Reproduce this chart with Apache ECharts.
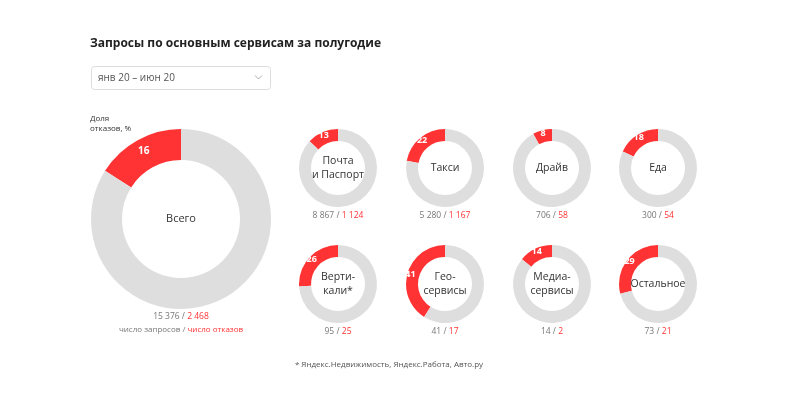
<!DOCTYPE html>
<html><head><meta charset="utf-8">
<script src="https://cdn.jsdelivr.net/npm/echarts@6/dist/echarts.min.js"></script>
<style>html,body{margin:0;padding:0;background:#fff}#c{width:800px;height:401px}</style>
</head><body><div id="c"></div>
<script>
var titleText = 'Запросы по основным сервисам за полугодие';
var periodText = 'янв 20 – июн 20';
var names = ['Всего', 'Почта\nи Паспорт', 'Такси', 'Драйв', 'Еда', 'Верти-\nкали*', 'Гео-\nсервисы', 'Медиа-\nсервисы', 'Остальное'];
var shares = [16, 13, 22, 8, 18, 26, 41, 14, 29];
var requests = [15376, 8867, 5280, 706, 300, 95, 41, 14, 73];
var refusals = [2468, 1124, 1167, 58, 54, 25, 17, 2, 21];
var footnote = '* Яндекс.Недвижимость, Яндекс.Работа, Авто.ру';

var FONT = '"Open Sans", "Noto Sans", sans-serif';
var RED = '#ff3333', GREY = '#dedede';
var layout = [
  {c:[181,219], r:[59,90], big:true},
  {c:[338,168], r:[27,39]}, {c:[445,168], r:[27,39]}, {c:[552,168], r:[27,39]}, {c:[658,168], r:[27,39]},
  {c:[338,284], r:[27,39]}, {c:[445,284], r:[27,39]}, {c:[552,284], r:[27,39]}, {c:[658,284], r:[27,39]}
];
function fmt(n){ return String(n).replace(/\B(?=(\d{3})+(?!\d))/g, ' '); }

var series = names.map(function(nm, i){
  var L = layout[i];
  return {
    type:'pie', name: nm, center: L.c, radius: L.r, clockwise:false, startAngle:90,
    silent:true, animation:false, labelLine:{show:false},
    data:[
      {value: shares[i], name: nm, itemStyle:{color:RED},
       label:{show:true, position:'inside', formatter: String(shares[i]), color:'#fff', fontWeight:'bold', fontSize: L.big?10:9, fontFamily:FONT}},
      {value: 100-shares[i], name: nm+'_', itemStyle:{color:GREY},
       label:{show:true, position:'center', formatter: nm, color:'#333', fontSize: L.big?11:10.5, lineHeight:13.5, fontFamily:FONT}}
    ]
  };
});

var graphics = [
  {type:'text', left:90, top:38, style:{text:titleText, font:'bold 12px '+FONT, fill:'#222'}},
  {type:'rect', shape:{x:91.5, y:66.5, width:179, height:23, r:3}, style:{fill:'#fff', stroke:'#dcdcdc', lineWidth:1}},
  {type:'text', x:98, y:78, style:{text:periodText, font:'10px '+FONT, fill:'#555', verticalAlign:'middle'}},
  {type:'polyline', shape:{points:[[255,75.5],[258.5,79],[262,75.5]]}, style:{stroke:'#aaa', lineWidth:1, fill:null}},
  {type:'text', x:90, y:114, style:{text:'Доля\nотказов, %', font:'8px '+FONT, fill:'#333', lineHeight:10}},
  {type:'text', x:181, y:330, style:{text:'{g|число запросов / }{r|число отказов}', align:'center', verticalAlign:'middle',
    rich:{g:{fill:'#777', font:'8px '+FONT}, r:{fill:RED, font:'8px '+FONT}}}},
  {type:'text', x:389, y:365, style:{text:footnote, font:'8px '+FONT, fill:'#555', align:'center', verticalAlign:'middle'}}
];
layout.forEach(function(L, i){
  var y = L.big ? 317 : L.c[1] + 48;
  graphics.push({type:'text', x:L.c[0], y:y, style:{text:'{g|'+fmt(requests[i])+' / }{r|'+fmt(refusals[i])+'}', align:'center', verticalAlign:'middle',
    rich:{g:{fill:'#777', font:'8.5px '+FONT}, r:{fill:RED, font:'8.5px '+FONT}}}});
});

var chart = echarts.init(document.getElementById('c'), null, {renderer:'canvas'});
chart.setOption({backgroundColor:'#fff', animation:false, series: series, graphic: graphics});
</script></body></html>
